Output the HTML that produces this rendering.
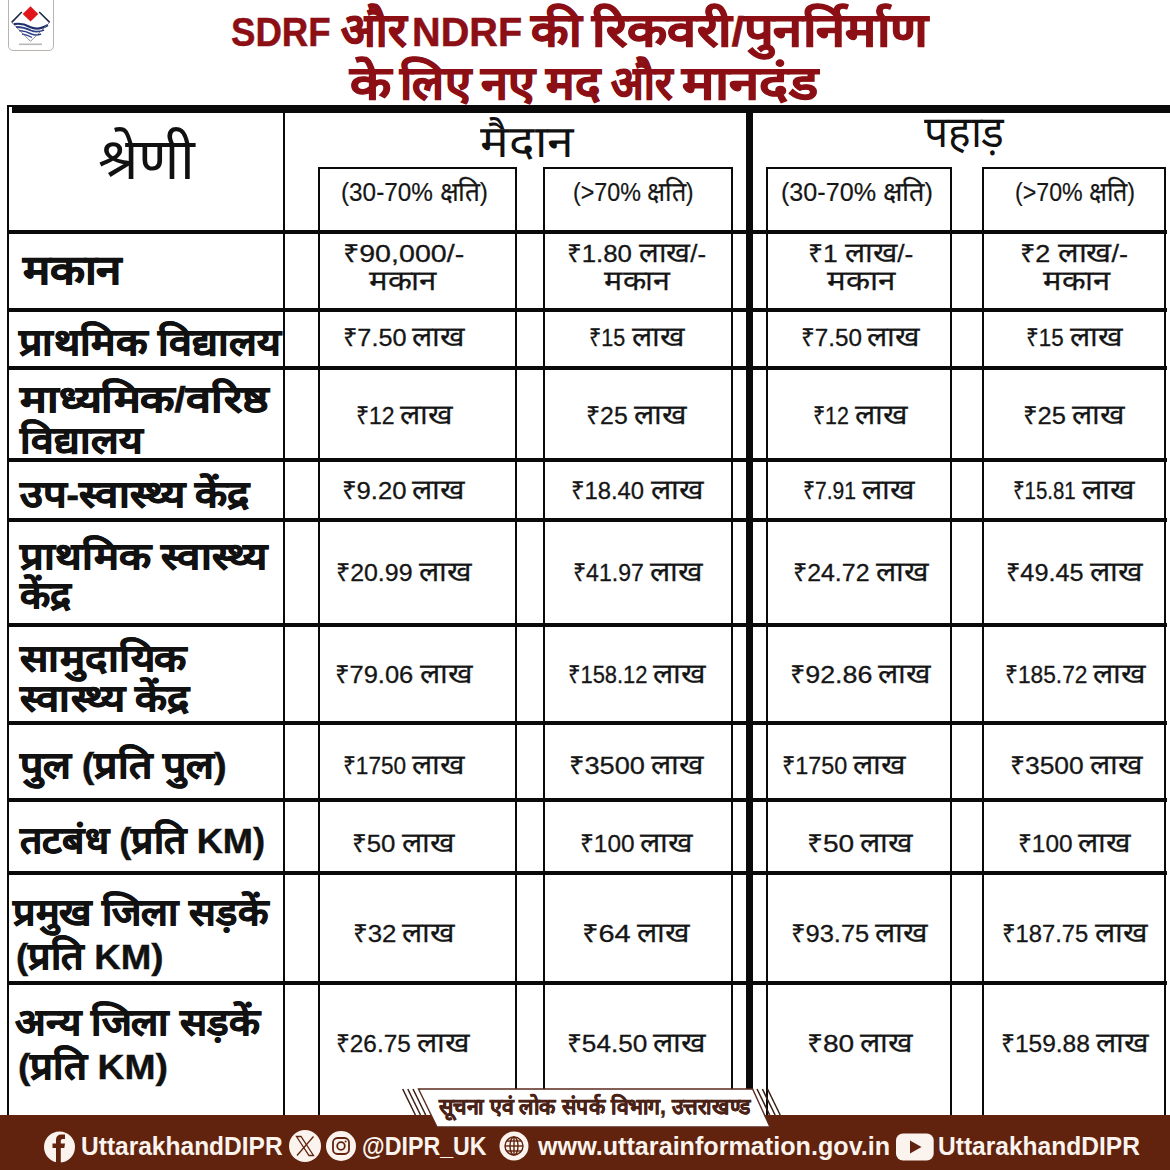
<!DOCTYPE html><html><head><meta charset="utf-8"><style>
html,body{margin:0;padding:0;}
body{width:1170px;height:1170px;position:relative;overflow:hidden;background:#fff;font-family:"Liberation Sans",sans-serif;}
.t{position:absolute;white-space:nowrap;transform-origin:0 0;}
.t .d{line-height:0;}
.ttl .d{font-size:1.145em;}
.hd .d{font-size:1.000em;}
.sh .d{font-size:1.080em;}
.lb .d{font-size:1.080em;}
.val .d{font-size:1.130em;}
.bn .d{font-size:1.000em;}
.ft .d{font-size:1.000em;}
.t .r{font-size:0.887em;}
.k{position:absolute;background:#0a0a0a;}
#footer{position:absolute;left:0;top:1115px;width:1170px;height:55px;background:#61230d;}
#logo{position:absolute;left:8px;top:-4px;width:44.3px;height:53.3px;border:1.5px solid #b9b3b0;border-radius:5px;background:#fff;}
svg{position:absolute;overflow:visible;}
.ttl{-webkit-text-stroke:0.5px #8b0f14;}
.ttl .d{-webkit-text-stroke:0.9px #8b0f14;}
.lb{-webkit-text-stroke:0.4px #111;}
.lb .d{-webkit-text-stroke:0.7px #111;}
.bn{-webkit-text-stroke:0.5px #4a2216;}
.ft{-webkit-text-stroke:0px #fbf3ee;}
.val{-webkit-text-stroke:0.3px #161616;}
.val .d{-webkit-text-stroke:0.25px #161616;}
.sh{-webkit-text-stroke:0.2px #161616;}
</style></head><body>
<div class="k" style="left:12px;top:105px;width:1158px;height:8px;"></div>
<div class="k" style="left:7px;top:105px;width:5px;height:2px;"></div>
<div class="k" style="left:7px;top:105px;width:2px;height:1010px;"></div>
<div class="k" style="left:283px;top:105px;width:2px;height:1010px;"></div>
<div class="k" style="left:746px;top:105px;width:7px;height:1010px;"></div>
<div class="k" style="left:318px;top:167px;width:2px;height:948px;"></div>
<div class="k" style="left:515px;top:167px;width:2px;height:948px;"></div>
<div class="k" style="left:543px;top:167px;width:2px;height:948px;"></div>
<div class="k" style="left:731px;top:167px;width:2px;height:948px;"></div>
<div class="k" style="left:766px;top:167px;width:2px;height:948px;"></div>
<div class="k" style="left:950px;top:167px;width:2px;height:948px;"></div>
<div class="k" style="left:982px;top:167px;width:2px;height:948px;"></div>
<div class="k" style="left:1164px;top:167px;width:2px;height:948px;"></div>
<div class="k" style="left:318px;top:167px;width:199px;height:2px;"></div>
<div class="k" style="left:543px;top:167px;width:190px;height:2px;"></div>
<div class="k" style="left:766px;top:167px;width:186px;height:2px;"></div>
<div class="k" style="left:982px;top:167px;width:184px;height:2px;"></div>
<div class="k" style="left:7px;top:229.7px;width:1160px;height:4.5px;"></div>
<div class="k" style="left:7px;top:307.7px;width:1160px;height:4.5px;"></div>
<div class="k" style="left:7px;top:365.7px;width:1160px;height:4.5px;"></div>
<div class="k" style="left:7px;top:457.7px;width:1160px;height:4.5px;"></div>
<div class="k" style="left:7px;top:517.7px;width:1160px;height:4.5px;"></div>
<div class="k" style="left:7px;top:622.7px;width:1160px;height:4.5px;"></div>
<div class="k" style="left:7px;top:720.7px;width:1160px;height:4.5px;"></div>
<div class="k" style="left:7px;top:797.7px;width:1160px;height:4.5px;"></div>
<div class="k" style="left:7px;top:870.7px;width:1160px;height:4.5px;"></div>
<div class="k" style="left:7px;top:980.7px;width:1160px;height:4.5px;"></div><div id="logo"></div>
<svg style="left:0;top:0" width="70" height="60" viewBox="0 0 70 60">
  <path d="M11.7 22.4 L21.8 12 M39.2 12 L49.7 22.4" stroke="#23294a" stroke-width="1.6" fill="none"/>
  <path d="M30.5 6.3 L38.3 14 L30.5 21.6 L22.7 14 Z" fill="#e0161b"/>
  <path d="M13.8 24.2 Q22 22.5 30 27 Q38 31 47.9 25" stroke="#1f2f6e" stroke-width="2.2" fill="none"/>
  <path d="M16 27 Q24 27 31 30.5 Q37 33 44 30" stroke="#2c3f86" stroke-width="1.8" fill="none"/>
  <path d="M19 30.5 Q26 31 31.5 34 Q36 36 41 34" stroke="#2c3f86" stroke-width="1.6" fill="none"/>
  <path d="M22 34 Q28 35 32 37.5" stroke="#34468c" stroke-width="1.4" fill="none"/>
  <path d="M11.7 22.4 L30.5 41.3 L49.7 22.4" stroke="#6a6f86" stroke-width="0.8" fill="none"/>
  <rect x="19" y="43.5" width="23" height="1.6" fill="#b8b8b8"/>
</svg>
<div id="footer"></div>
<svg style="left:0;top:1080px" width="1170" height="60" viewBox="0 1080 1170 60">
  <polygon points="418.5,1089 752.6,1089 770,1127 437,1127" fill="#fff" stroke="#5b2a1c" stroke-width="1.4"/>
  <g stroke="#3a1d12" stroke-width="1.5">
    <line x1="402.7" y1="1089" x2="415.4" y2="1115"/>
    <line x1="407.8" y1="1089" x2="420.5" y2="1115"/>
    <line x1="413" y1="1089" x2="425.7" y2="1115"/>
    <line x1="757" y1="1089" x2="769.7" y2="1115"/>
    <line x1="762.4" y1="1089" x2="775.1" y2="1115"/>
    <line x1="767.5" y1="1089" x2="780.2" y2="1115"/>
  </g>
</svg>
<svg style="left:0;top:1115px" width="1170" height="55" viewBox="0 1115 1170 55">
  <!-- facebook -->
  <circle cx="59.5" cy="1147" r="15.5" fill="#fbf3ee"/>
  <path d="M56 1163 V1148 H52.5 V1143.5 H56 V1140 Q56 1134.5 61.5 1134.5 H65 V1139 H62.5 Q60.8 1139 60.8 1140.8 V1143.5 H65 L64.3 1148 H60.8 V1163 Z" fill="#61230d"/>
  <!-- X -->
  <circle cx="305" cy="1146" r="16" fill="#fbf3ee"/>
  <path d="M296.5 1136.5 L309 1155.5 H313.5 L301 1136.5 Z" fill="none" stroke="#61230d" stroke-width="1.3"/>
  <path d="M313.5 1136.5 L297 1155.5" stroke="#61230d" stroke-width="1.3"/>
  <!-- instagram -->
  <circle cx="341" cy="1146" r="15" fill="#fbf3ee"/>
  <rect x="333" y="1138" width="16" height="16" rx="4.5" fill="none" stroke="#61230d" stroke-width="1.8"/>
  <circle cx="341" cy="1146" r="3.8" fill="none" stroke="#61230d" stroke-width="1.8"/>
  <circle cx="345.6" cy="1141.6" r="1" fill="#61230d"/>
  <!-- globe -->
  <circle cx="514" cy="1146" r="14.5" fill="#fbf3ee"/>
  <g fill="none" stroke="#61230d" stroke-width="1.4">
    <circle cx="514" cy="1146" r="9"/>
    <ellipse cx="514" cy="1146" rx="4" ry="9"/>
    <line x1="514" y1="1137" x2="514" y2="1155"/>
    <line x1="505" y1="1146" x2="523" y2="1146"/>
    <line x1="506.5" y1="1141" x2="521.5" y2="1141"/>
    <line x1="506.5" y1="1151" x2="521.5" y2="1151"/>
  </g>
  <!-- youtube -->
  <rect x="896" y="1133.5" width="37.7" height="27" rx="7" fill="#fbf3ee"/>
  <path d="M910 1140.5 L921.5 1147 L910 1153.5 Z" fill="#61230d"/>
</svg>

<div class="t ttl" id="t1_0" style="left:230.50px;top:11.63px;font-size:40.60px;line-height:40.60px;font-weight:bold;color:#8b0f14;transform:scale(0.9019,1.0000);">SDRF</div>
<div class="t ttl" id="t1_1" style="left:340.82px;top:11.63px;font-size:40.60px;line-height:40.60px;font-weight:bold;color:#8b0f14;transform:scale(0.9794,1.0000);"><span class="d">और</span></div>
<div class="t ttl" id="t1_2" style="left:411.97px;top:11.63px;font-size:40.60px;line-height:40.60px;font-weight:bold;color:#8b0f14;transform:scale(0.9769,1.0000);">NDRF</div>
<div class="t ttl" id="t1_3" style="left:531.25px;top:11.63px;font-size:40.60px;line-height:40.60px;font-weight:bold;color:#8b0f14;transform:scale(1.0490,1.0000);"><span class="d">की</span></div>
<div class="t ttl" id="t1_4" style="left:591.93px;top:11.63px;font-size:40.60px;line-height:40.60px;font-weight:bold;color:#8b0f14;transform:scale(1.1252,1.0000);"><span class="d">रिकवरी</span>/<span class="d">पुनर्निर्माण</span></div>
<div class="t ttl" id="t2_0" style="left:349.56px;top:64.83px;font-size:40.60px;line-height:40.60px;font-weight:bold;color:#8b0f14;transform:scale(1.1553,1.0000);"><span class="d">के</span></div>
<div class="t ttl" id="t2_1" style="left:399.62px;top:64.83px;font-size:40.60px;line-height:40.60px;font-weight:bold;color:#8b0f14;transform:scale(1.0181,1.0000);"><span class="d">लिए</span></div>
<div class="t ttl" id="t2_2" style="left:481.35px;top:64.83px;font-size:40.60px;line-height:40.60px;font-weight:bold;color:#8b0f14;transform:scale(1.0463,1.0000);"><span class="d">नए</span></div>
<div class="t ttl" id="t2_3" style="left:546.23px;top:64.83px;font-size:40.60px;line-height:40.60px;font-weight:bold;color:#8b0f14;transform:scale(1.0273,1.0000);"><span class="d">मद</span></div>
<div class="t ttl" id="t2_4" style="left:611.28px;top:64.83px;font-size:40.60px;line-height:40.60px;font-weight:bold;color:#8b0f14;transform:scale(0.9235,1.0000);"><span class="d">और</span></div>
<div class="t ttl" id="t2_5" style="left:682.47px;top:64.83px;font-size:40.60px;line-height:40.60px;font-weight:bold;color:#8b0f14;transform:scale(1.1712,1.0000);"><span class="d">मानदंड</span></div>
<div class="t hd" id="h1" style="left:97.72px;top:130.10px;font-size:58.00px;line-height:58.00px;font-weight:normal;color:#111;transform:scale(0.9876,1.0000);"><span class="d">श्रेणी</span></div>
<div class="t hd" id="h2" style="left:480.30px;top:119.86px;font-size:44.70px;line-height:44.70px;font-weight:normal;color:#111;transform:scale(1.0708,1.0000);"><span class="d">मैदान</span></div>
<div class="t hd" id="h3" style="left:923.50px;top:110.21px;font-size:43.70px;line-height:43.70px;font-weight:normal;color:#111;transform:scale(0.9735,1.0000);"><span class="d">पहाड़</span></div>
<div class="t sh" id="s1" style="left:341.25px;top:180.12px;font-size:24.90px;line-height:24.90px;font-weight:normal;color:#161616;transform:scale(0.9769,1.0000);">(30-70% <span class="d">क्षति</span>)</div>
<div class="t sh" id="s2" style="left:573.13px;top:180.12px;font-size:24.90px;line-height:24.90px;font-weight:normal;color:#161616;transform:scale(0.9360,1.0000);">(&gt;70% <span class="d">क्षति</span>)</div>
<div class="t sh" id="s3" style="left:780.98px;top:180.12px;font-size:24.90px;line-height:24.90px;font-weight:normal;color:#161616;transform:scale(1.0102,1.0000);">(30-70% <span class="d">क्षति</span>)</div>
<div class="t sh" id="s4" style="left:1014.94px;top:180.12px;font-size:24.90px;line-height:24.90px;font-weight:normal;color:#161616;transform:scale(0.9320,1.0000);">(&gt;70% <span class="d">क्षति</span>)</div>
<div class="t lb" id="l1" style="left:22.53px;top:253.26px;font-size:37.50px;line-height:37.50px;font-weight:bold;color:#111;transform:scale(1.1256,1.0000);"><span class="d">मकान</span></div>
<div class="t lb" id="l2" style="left:18.51px;top:325.65px;font-size:34.20px;line-height:34.20px;font-weight:bold;color:#111;transform:scale(1.1143,1.0000);"><span class="d">प्राथमिक</span> <span class="d">विद्यालय</span></div>
<div class="t lb" id="l3a" style="left:19.82px;top:382.65px;font-size:34.20px;line-height:34.20px;font-weight:bold;color:#111;transform:scale(1.2155,1.0000);"><span class="d">माध्यमिक</span>/<span class="d">वरिष्ठ</span></div>
<div class="t lb" id="l3b" style="left:19.71px;top:423.55px;font-size:34.20px;line-height:34.20px;font-weight:bold;color:#111;transform:scale(1.1080,1.0000);"><span class="d">विद्यालय</span></div>
<div class="t lb" id="l4" style="left:19.73px;top:478.15px;font-size:34.20px;line-height:34.20px;font-weight:bold;color:#111;transform:scale(1.1307,1.0000);"><span class="d">उप</span>-<span class="d">स्वास्थ्य</span> <span class="d">केंद्र</span></div>
<div class="t lb" id="l5a" style="left:19.73px;top:540.05px;font-size:34.20px;line-height:34.20px;font-weight:bold;color:#111;transform:scale(1.1330,1.0000);"><span class="d">प्राथमिक</span> <span class="d">स्वास्थ्य</span></div>
<div class="t lb" id="l5b" style="left:19.67px;top:578.55px;font-size:34.20px;line-height:34.20px;font-weight:bold;color:#111;transform:scale(1.0660,1.0000);"><span class="d">केंद्र</span></div>
<div class="t lb" id="l6a" style="left:19.74px;top:641.95px;font-size:34.20px;line-height:34.20px;font-weight:bold;color:#111;transform:scale(1.1396,1.0000);"><span class="d">सामुदायिक</span></div>
<div class="t lb" id="l6b" style="left:19.73px;top:681.55px;font-size:34.20px;line-height:34.20px;font-weight:bold;color:#111;transform:scale(1.1261,1.0000);"><span class="d">स्वास्थ्य</span> <span class="d">केंद्र</span></div>
<div class="t lb" id="l7" style="left:19.71px;top:748.55px;font-size:34.20px;line-height:34.20px;font-weight:bold;color:#111;transform:scale(1.1119,1.0000);"><span class="d">पुल</span> (<span class="d">प्रति</span> <span class="d">पुल</span>)</div>
<div class="t lb" id="l8" style="left:19.66px;top:824.35px;font-size:34.20px;line-height:34.20px;font-weight:bold;color:#111;transform:scale(1.0617,1.0000);"><span class="d">तटबंध</span> (<span class="d">प्रति</span> KM)</div>
<div class="t lb" id="l9a" style="left:13.47px;top:896.25px;font-size:34.20px;line-height:34.20px;font-weight:bold;color:#111;transform:scale(1.0742,1.0000);"><span class="d">प्रमुख</span> <span class="d">जिला</span> <span class="d">सड़कें</span></div>
<div class="t lb" id="l9b" style="left:16.45px;top:939.65px;font-size:34.20px;line-height:34.20px;font-weight:bold;color:#111;transform:scale(1.0731,1.0000);">(<span class="d">प्रति</span> KM)</div>
<div class="t lb" id="l10a" style="left:15.01px;top:1005.65px;font-size:34.20px;line-height:34.20px;font-weight:bold;color:#111;transform:scale(1.0907,1.0000);"><span class="d">अन्य</span> <span class="d">जिला</span> <span class="d">सड़कें</span></div>
<div class="t lb" id="l10b" style="left:17.62px;top:1049.75px;font-size:34.20px;line-height:34.20px;font-weight:bold;color:#111;transform:scale(1.0910,1.0000);">(<span class="d">प्रति</span> KM)</div>
<div class="t val" id="v1_1" style="left:343.48px;top:241.69px;font-size:24.70px;line-height:24.70px;font-weight:normal;color:#161616;transform:scale(1.1584,1.0000);"><span class="d"><span class="r">₹</span></span>90,000/-</div>
<div class="t val" id="v1_2" style="left:566.91px;top:241.69px;font-size:24.70px;line-height:24.70px;font-weight:normal;color:#161616;transform:scale(1.0462,1.0000);"><span class="d"><span class="r">₹</span></span>1.80 <span class="d">लाख</span>/-</div>
<div class="t val" id="v1_3" style="left:807.86px;top:241.69px;font-size:24.70px;line-height:24.70px;font-weight:normal;color:#161616;transform:scale(1.0677,1.0000);"><span class="d"><span class="r">₹</span></span>1 <span class="d">लाख</span>/-</div>
<div class="t val" id="v1_4" style="left:1020.31px;top:241.69px;font-size:24.70px;line-height:24.70px;font-weight:normal;color:#161616;transform:scale(1.0938,1.0000);"><span class="d"><span class="r">₹</span></span>2 <span class="d">लाख</span>/-</div>
<div class="t val" id="v2_1a" style="left:342.95px;top:325.69px;font-size:24.70px;line-height:24.70px;font-weight:normal;color:#161616;transform:scale(1.0237,1.0000);"><span class="d"><span class="r">₹</span></span>7.50</div>
<div class="t val" id="v2_1b" style="left:412.40px;top:325.69px;font-size:24.70px;line-height:24.70px;font-weight:normal;color:#161616;transform:scale(1.0735,1.0000);"><span class="d">लाख</span></div>
<div class="t val" id="v2_2a" style="left:589.26px;top:325.69px;font-size:24.70px;line-height:24.70px;font-weight:normal;color:#161616;transform:scale(0.8718,1.0000);"><span class="d"><span class="r">₹</span></span>15</div>
<div class="t val" id="v2_2b" style="left:632.00px;top:325.69px;font-size:24.70px;line-height:24.70px;font-weight:normal;color:#161616;transform:scale(1.0735,1.0000);"><span class="d">लाख</span></div>
<div class="t val" id="v2_3a" style="left:800.54px;top:325.69px;font-size:24.70px;line-height:24.70px;font-weight:normal;color:#161616;transform:scale(0.9814,1.0000);"><span class="d"><span class="r">₹</span></span>7.50</div>
<div class="t val" id="v2_3b" style="left:867.40px;top:325.69px;font-size:24.70px;line-height:24.70px;font-weight:normal;color:#161616;transform:scale(1.0735,1.0000);"><span class="d">लाख</span></div>
<div class="t val" id="v2_4a" style="left:1025.68px;top:325.69px;font-size:24.70px;line-height:24.70px;font-weight:normal;color:#161616;transform:scale(0.9077,1.0000);"><span class="d"><span class="r">₹</span></span>15</div>
<div class="t val" id="v2_4b" style="left:1069.90px;top:325.69px;font-size:24.70px;line-height:24.70px;font-weight:normal;color:#161616;transform:scale(1.0735,1.0000);"><span class="d">लाख</span></div>
<div class="t val" id="v3_1a" style="left:355.64px;top:403.69px;font-size:24.70px;line-height:24.70px;font-weight:normal;color:#161616;transform:scale(0.9316,1.0000);"><span class="d"><span class="r">₹</span></span>12</div>
<div class="t val" id="v3_1b" style="left:399.90px;top:403.69px;font-size:24.70px;line-height:24.70px;font-weight:normal;color:#161616;transform:scale(1.0735,1.0000);"><span class="d">लाख</span></div>
<div class="t val" id="v3_2a" style="left:585.78px;top:403.69px;font-size:24.70px;line-height:24.70px;font-weight:normal;color:#161616;transform:scale(1.0077,1.0000);"><span class="d"><span class="r">₹</span></span>25</div>
<div class="t val" id="v3_2b" style="left:634.10px;top:403.69px;font-size:24.70px;line-height:24.70px;font-weight:normal;color:#161616;transform:scale(1.0735,1.0000);"><span class="d">लाख</span></div>
<div class="t val" id="v3_3a" style="left:813.27px;top:403.69px;font-size:24.70px;line-height:24.70px;font-weight:normal;color:#161616;transform:scale(0.8658,1.0000);"><span class="d"><span class="r">₹</span></span>12</div>
<div class="t val" id="v3_3b" style="left:854.90px;top:403.69px;font-size:24.70px;line-height:24.70px;font-weight:normal;color:#161616;transform:scale(1.0735,1.0000);"><span class="d">लाख</span></div>
<div class="t val" id="v3_4a" style="left:1022.93px;top:403.69px;font-size:24.70px;line-height:24.70px;font-weight:normal;color:#161616;transform:scale(1.0359,1.0000);"><span class="d"><span class="r">₹</span></span>25</div>
<div class="t val" id="v3_4b" style="left:1072.40px;top:403.69px;font-size:24.70px;line-height:24.70px;font-weight:normal;color:#161616;transform:scale(1.0735,1.0000);"><span class="d">लाख</span></div>
<div class="t val" id="v4_1a" style="left:341.92px;top:479.19px;font-size:24.70px;line-height:24.70px;font-weight:normal;color:#161616;transform:scale(1.0407,1.0000);"><span class="d"><span class="r">₹</span></span>9.20</div>
<div class="t val" id="v4_1b" style="left:412.40px;top:479.19px;font-size:24.70px;line-height:24.70px;font-weight:normal;color:#161616;transform:scale(1.0735,1.0000);"><span class="d">लाख</span></div>
<div class="t val" id="v4_2a" style="left:571.37px;top:479.19px;font-size:24.70px;line-height:24.70px;font-weight:normal;color:#161616;transform:scale(0.9644,1.0000);"><span class="d"><span class="r">₹</span></span>18.40</div>
<div class="t val" id="v4_2b" style="left:650.70px;top:479.19px;font-size:24.70px;line-height:24.70px;font-weight:normal;color:#161616;transform:scale(1.0735,1.0000);"><span class="d">लाख</span></div>
<div class="t val" id="v4_3a" style="left:803.29px;top:479.19px;font-size:24.70px;line-height:24.70px;font-weight:normal;color:#161616;transform:scale(0.8542,1.0000);"><span class="d"><span class="r">₹</span></span>7.91</div>
<div class="t val" id="v4_3b" style="left:862.40px;top:479.19px;font-size:24.70px;line-height:24.70px;font-weight:normal;color:#161616;transform:scale(1.0735,1.0000);"><span class="d">लाख</span></div>
<div class="t val" id="v4_4a" style="left:1013.35px;top:479.19px;font-size:24.70px;line-height:24.70px;font-weight:normal;color:#161616;transform:scale(0.8274,1.0000);"><span class="d"><span class="r">₹</span></span>15.81</div>
<div class="t val" id="v4_4b" style="left:1082.40px;top:479.19px;font-size:24.70px;line-height:24.70px;font-weight:normal;color:#161616;transform:scale(1.0735,1.0000);"><span class="d">लाख</span></div>
<div class="t val" id="v5_1a" style="left:335.78px;top:561.49px;font-size:24.70px;line-height:24.70px;font-weight:normal;color:#161616;transform:scale(1.0096,1.0000);"><span class="d"><span class="r">₹</span></span>20.99</div>
<div class="t val" id="v5_1b" style="left:418.50px;top:561.49px;font-size:24.70px;line-height:24.70px;font-weight:normal;color:#161616;transform:scale(1.0735,1.0000);"><span class="d">लाख</span></div>
<div class="t val" id="v5_2a" style="left:572.53px;top:561.49px;font-size:24.70px;line-height:24.70px;font-weight:normal;color:#161616;transform:scale(0.9342,1.0000);"><span class="d"><span class="r">₹</span></span>41.97</div>
<div class="t val" id="v5_2b" style="left:649.60px;top:561.49px;font-size:24.70px;line-height:24.70px;font-weight:normal;color:#161616;transform:scale(1.0735,1.0000);"><span class="d">लाख</span></div>
<div class="t val" id="v5_3a" style="left:792.98px;top:561.49px;font-size:24.70px;line-height:24.70px;font-weight:normal;color:#161616;transform:scale(1.0096,1.0000);"><span class="d"><span class="r">₹</span></span>24.72</div>
<div class="t val" id="v5_3b" style="left:875.70px;top:561.49px;font-size:24.70px;line-height:24.70px;font-weight:normal;color:#161616;transform:scale(1.0735,1.0000);"><span class="d">लाख</span></div>
<div class="t val" id="v5_4a" style="left:1005.75px;top:561.49px;font-size:24.70px;line-height:24.70px;font-weight:normal;color:#161616;transform:scale(1.0247,1.0000);"><span class="d"><span class="r">₹</span></span>49.45</div>
<div class="t val" id="v5_4b" style="left:1089.60px;top:561.49px;font-size:24.70px;line-height:24.70px;font-weight:normal;color:#161616;transform:scale(1.0735,1.0000);"><span class="d">लाख</span></div>
<div class="t val" id="v6_1a" style="left:335.43px;top:662.59px;font-size:24.70px;line-height:24.70px;font-weight:normal;color:#161616;transform:scale(1.0329,1.0000);"><span class="d"><span class="r">₹</span></span>79.06</div>
<div class="t val" id="v6_1b" style="left:419.90px;top:662.59px;font-size:24.70px;line-height:24.70px;font-weight:normal;color:#161616;transform:scale(1.0735,1.0000);"><span class="d">लाख</span></div>
<div class="t val" id="v6_2a" style="left:568.22px;top:662.59px;font-size:24.70px;line-height:24.70px;font-weight:normal;color:#161616;transform:scale(0.8884,1.0000);"><span class="d"><span class="r">₹</span></span>158.12</div>
<div class="t val" id="v6_2b" style="left:653.40px;top:662.59px;font-size:24.70px;line-height:24.70px;font-weight:normal;color:#161616;transform:scale(1.0735,1.0000);"><span class="d">लाख</span></div>
<div class="t val" id="v6_3a" style="left:789.82px;top:662.59px;font-size:24.70px;line-height:24.70px;font-weight:normal;color:#161616;transform:scale(1.0877,1.0000);"><span class="d"><span class="r">₹</span></span>92.86</div>
<div class="t val" id="v6_3b" style="left:878.40px;top:662.59px;font-size:24.70px;line-height:24.70px;font-weight:normal;color:#161616;transform:scale(1.0735,1.0000);"><span class="d">लाख</span></div>
<div class="t val" id="v6_4a" style="left:1004.86px;top:662.59px;font-size:24.70px;line-height:24.70px;font-weight:normal;color:#161616;transform:scale(0.9209,1.0000);"><span class="d"><span class="r">₹</span></span>185.72</div>
<div class="t val" id="v6_4b" style="left:1092.90px;top:662.59px;font-size:24.70px;line-height:24.70px;font-weight:normal;color:#161616;transform:scale(1.0735,1.0000);"><span class="d">लाख</span></div>
<div class="t val" id="v7_1a" style="left:342.57px;top:753.69px;font-size:24.70px;line-height:24.70px;font-weight:normal;color:#161616;transform:scale(0.9152,1.0000);"><span class="d"><span class="r">₹</span></span>1750</div>
<div class="t val" id="v7_1b" style="left:411.80px;top:753.69px;font-size:24.70px;line-height:24.70px;font-weight:normal;color:#161616;transform:scale(1.0735,1.0000);"><span class="d">लाख</span></div>
<div class="t val" id="v7_2a" style="left:568.80px;top:753.69px;font-size:24.70px;line-height:24.70px;font-weight:normal;color:#161616;transform:scale(1.1015,1.0000);"><span class="d"><span class="r">₹</span></span>3500</div>
<div class="t val" id="v7_2b" style="left:650.70px;top:753.69px;font-size:24.70px;line-height:24.70px;font-weight:normal;color:#161616;transform:scale(1.0735,1.0000);"><span class="d">लाख</span></div>
<div class="t val" id="v7_3a" style="left:782.11px;top:753.69px;font-size:24.70px;line-height:24.70px;font-weight:normal;color:#161616;transform:scale(0.9455,1.0000);"><span class="d"><span class="r">₹</span></span>1750</div>
<div class="t val" id="v7_3b" style="left:853.40px;top:753.69px;font-size:24.70px;line-height:24.70px;font-weight:normal;color:#161616;transform:scale(1.0735,1.0000);"><span class="d">लाख</span></div>
<div class="t val" id="v7_4a" style="left:1009.86px;top:753.69px;font-size:24.70px;line-height:24.70px;font-weight:normal;color:#161616;transform:scale(1.0697,1.0000);"><span class="d"><span class="r">₹</span></span>3500</div>
<div class="t val" id="v7_4b" style="left:1089.60px;top:753.69px;font-size:24.70px;line-height:24.70px;font-weight:normal;color:#161616;transform:scale(1.0735,1.0000);"><span class="d">लाख</span></div>
<div class="t val" id="v8_1a" style="left:351.91px;top:832.49px;font-size:24.70px;line-height:24.70px;font-weight:normal;color:#161616;transform:scale(1.0462,1.0000);"><span class="d"><span class="r">₹</span></span>50</div>
<div class="t val" id="v8_1b" style="left:401.80px;top:832.49px;font-size:24.70px;line-height:24.70px;font-weight:normal;color:#161616;transform:scale(1.0735,1.0000);"><span class="d">लाख</span></div>
<div class="t val" id="v8_2a" style="left:580.02px;top:832.49px;font-size:24.70px;line-height:24.70px;font-weight:normal;color:#161616;transform:scale(0.9885,1.0000);"><span class="d"><span class="r">₹</span></span>100</div>
<div class="t val" id="v8_2b" style="left:640.40px;top:832.49px;font-size:24.70px;line-height:24.70px;font-weight:normal;color:#161616;transform:scale(1.0735,1.0000);"><span class="d">लाख</span></div>
<div class="t val" id="v8_3a" style="left:806.72px;top:832.49px;font-size:24.70px;line-height:24.70px;font-weight:normal;color:#161616;transform:scale(1.1385,1.0000);"><span class="d"><span class="r">₹</span></span>50</div>
<div class="t val" id="v8_3b" style="left:860.40px;top:832.49px;font-size:24.70px;line-height:24.70px;font-weight:normal;color:#161616;transform:scale(1.0735,1.0000);"><span class="d">लाख</span></div>
<div class="t val" id="v8_4a" style="left:1018.02px;top:832.49px;font-size:24.70px;line-height:24.70px;font-weight:normal;color:#161616;transform:scale(0.9885,1.0000);"><span class="d"><span class="r">₹</span></span>100</div>
<div class="t val" id="v8_4b" style="left:1078.40px;top:832.49px;font-size:24.70px;line-height:24.70px;font-weight:normal;color:#161616;transform:scale(1.0735,1.0000);"><span class="d">लाख</span></div>
<div class="t val" id="v9_1a" style="left:352.91px;top:922.19px;font-size:24.70px;line-height:24.70px;font-weight:normal;color:#161616;transform:scale(1.0474,1.0000);"><span class="d"><span class="r">₹</span></span>32</div>
<div class="t val" id="v9_1b" style="left:401.80px;top:922.19px;font-size:24.70px;line-height:24.70px;font-weight:normal;color:#161616;transform:scale(1.0735,1.0000);"><span class="d">लाख</span></div>
<div class="t val" id="v9_2a" style="left:581.65px;top:922.19px;font-size:24.70px;line-height:24.70px;font-weight:normal;color:#161616;transform:scale(1.1744,1.0000);"><span class="d"><span class="r">₹</span></span>64</div>
<div class="t val" id="v9_2b" style="left:636.80px;top:922.19px;font-size:24.70px;line-height:24.70px;font-weight:normal;color:#161616;transform:scale(1.0735,1.0000);"><span class="d">लाख</span></div>
<div class="t val" id="v9_3a" style="left:790.93px;top:922.19px;font-size:24.70px;line-height:24.70px;font-weight:normal;color:#161616;transform:scale(1.0329,1.0000);"><span class="d"><span class="r">₹</span></span>93.75</div>
<div class="t val" id="v9_3b" style="left:875.40px;top:922.19px;font-size:24.70px;line-height:24.70px;font-weight:normal;color:#161616;transform:scale(1.0735,1.0000);"><span class="d">लाख</span></div>
<div class="t val" id="v9_4a" style="left:1002.47px;top:922.19px;font-size:24.70px;line-height:24.70px;font-weight:normal;color:#161616;transform:scale(0.9632,1.0000);"><span class="d"><span class="r">₹</span></span>187.75</div>
<div class="t val" id="v9_4b" style="left:1095.20px;top:922.19px;font-size:24.70px;line-height:24.70px;font-weight:normal;color:#161616;transform:scale(1.0735,1.0000);"><span class="d">लाख</span></div>
<div class="t val" id="v10_1a" style="left:336.43px;top:1032.29px;font-size:24.70px;line-height:24.70px;font-weight:normal;color:#161616;transform:scale(0.9863,1.0000);"><span class="d"><span class="r">₹</span></span>26.75</div>
<div class="t val" id="v10_1b" style="left:417.40px;top:1032.29px;font-size:24.70px;line-height:24.70px;font-weight:normal;color:#161616;transform:scale(1.0735,1.0000);"><span class="d">लाख</span></div>
<div class="t val" id="v10_2a" style="left:566.88px;top:1032.29px;font-size:24.70px;line-height:24.70px;font-weight:normal;color:#161616;transform:scale(1.0603,1.0000);"><span class="d"><span class="r">₹</span></span>54.50</div>
<div class="t val" id="v10_2b" style="left:653.40px;top:1032.29px;font-size:24.70px;line-height:24.70px;font-weight:normal;color:#161616;transform:scale(1.0735,1.0000);"><span class="d">लाख</span></div>
<div class="t val" id="v10_3a" style="left:806.72px;top:1032.29px;font-size:24.70px;line-height:24.70px;font-weight:normal;color:#161616;transform:scale(1.1385,1.0000);"><span class="d"><span class="r">₹</span></span>80</div>
<div class="t val" id="v10_3b" style="left:860.40px;top:1032.29px;font-size:24.70px;line-height:24.70px;font-weight:normal;color:#161616;transform:scale(1.0735,1.0000);"><span class="d">लाख</span></div>
<div class="t val" id="v10_4a" style="left:1001.01px;top:1032.29px;font-size:24.70px;line-height:24.70px;font-weight:normal;color:#161616;transform:scale(0.9931,1.0000);"><span class="d"><span class="r">₹</span></span>159.88</div>
<div class="t val" id="v10_4b" style="left:1096.40px;top:1032.29px;font-size:24.70px;line-height:24.70px;font-weight:normal;color:#161616;transform:scale(1.0735,1.0000);"><span class="d">लाख</span></div>
<div class="t val" id="m1" style="left:369.00px;top:270.09px;font-size:24.70px;line-height:24.70px;font-weight:normal;color:#161616;transform:scale(1.1180,1.0000);"><span class="d">मकान</span></div>
<div class="t val" id="m2" style="left:604.00px;top:270.09px;font-size:24.70px;line-height:24.70px;font-weight:normal;color:#161616;transform:scale(1.0902,1.0000);"><span class="d">मकान</span></div>
<div class="t val" id="m3" style="left:826.50px;top:270.09px;font-size:24.70px;line-height:24.70px;font-weight:normal;color:#161616;transform:scale(1.1230,1.0000);"><span class="d">मकान</span></div>
<div class="t val" id="m4" style="left:1042.50px;top:270.09px;font-size:24.70px;line-height:24.70px;font-weight:normal;color:#161616;transform:scale(1.1066,1.0000);"><span class="d">मकान</span></div>
<div class="t bn" id="f1" style="left:439.00px;top:1096.18px;font-size:22.00px;line-height:22.00px;font-weight:bold;color:#4a2216;transform:scale(0.9631,1.0000);"><span class="d">सूचना</span> <span class="d">एवं</span> <span class="d">लोक</span> <span class="d">संपर्क</span> <span class="d">विभाग</span>, <span class="d">उत्तराखण्ड</span></div>
<div class="t ft" id="f2" style="left:80.70px;top:1134.16px;font-size:25.80px;line-height:25.80px;font-weight:bold;color:#fbf3ee;transform:scale(0.9507,1.0000);">UttarakhandDIPR</div>
<div class="t ft" id="f3" style="left:362.10px;top:1134.16px;font-size:25.80px;line-height:25.80px;font-weight:bold;color:#fbf3ee;transform:scale(0.9007,1.0000);">@DIPR_UK</div>
<div class="t ft" id="f4" style="left:538.00px;top:1134.16px;font-size:25.80px;line-height:25.80px;font-weight:bold;color:#fbf3ee;transform:scale(0.9750,1.0000);">www.uttarainformation.gov.in</div>
<div class="t ft" id="f5" style="left:937.80px;top:1134.16px;font-size:25.80px;line-height:25.80px;font-weight:bold;color:#fbf3ee;transform:scale(0.9517,1.0000);">UttarakhandDIPR</div>
</body></html>
